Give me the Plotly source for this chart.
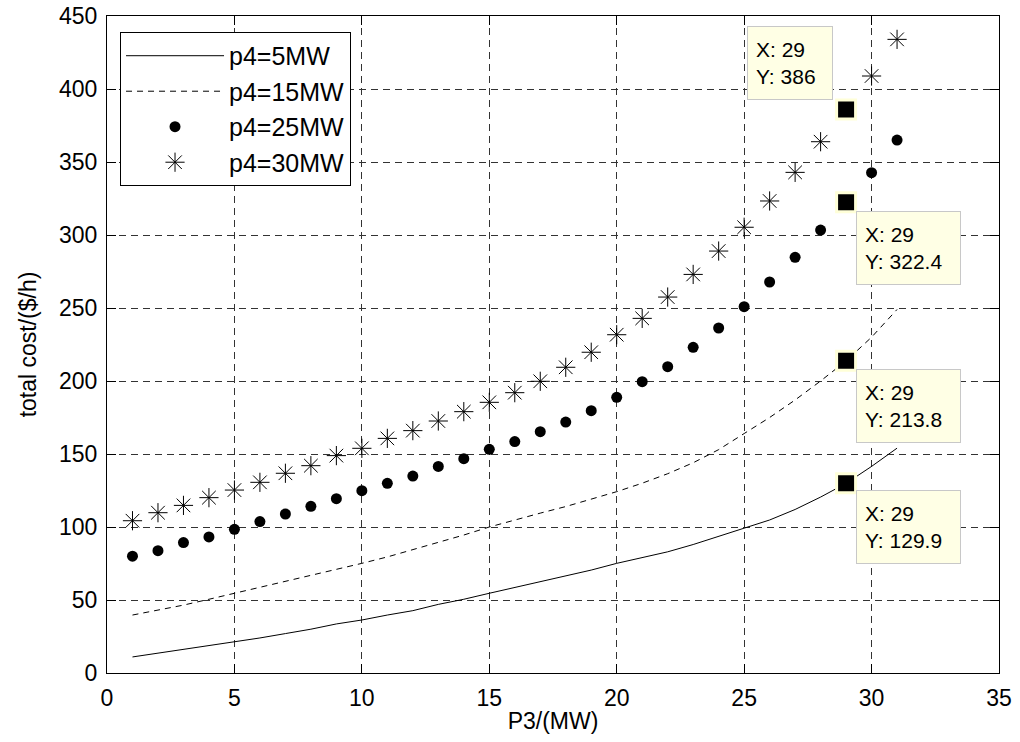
import plotly.graph_objects as go

# ---- data ----
p3 = list(range(1, 32))

cost_p4_5 = [11.0, 13.5, 16.0, 18.8, 21.5, 24.0, 27.0, 30.0, 33.6, 36.3,
             39.7, 42.7, 47.0, 50.5, 54.6, 58.5, 62.5, 66.5, 70.5, 75.1,
             79.0, 83.0, 88.0, 93.5, 99.0, 104.8, 112.0, 120.5, 129.9, 141.5,
             154.0]
cost_p4_15 = [39.7, 43.0, 46.5, 50.5, 54.6, 58.5, 62.5, 66.5, 70.8, 75.1,
              79.5, 84.5, 89.0, 94.5, 100.0, 105.0, 109.5, 114.0, 119.0, 124.2,
              130.0, 136.5, 144.0, 153.0, 164.0, 175.0, 187.0, 200.0, 213.8, 230.0,
              249.0]
cost_p4_25 = [80.0, 83.8, 89.3, 93.2, 98.4, 103.7, 108.9, 114.2, 119.4, 124.9,
              129.9, 134.9, 141.5, 146.8, 153.2, 158.5, 165.3, 171.9, 179.7, 188.8,
              199.5, 209.8, 223.1, 236.3, 250.9, 267.8, 284.7, 303.4, 322.4, 342.7,
              365.0]
cost_p4_30 = [104.3, 109.8, 114.8, 120.1, 125.3, 130.6, 136.8, 142.0, 148.9, 153.9,
              160.7, 166.0, 172.6, 179.0, 185.4, 192.0, 199.8, 209.4, 219.7, 231.7,
              242.9, 257.5, 273.0, 289.0, 305.3, 323.3, 342.9, 363.9, 386.0, 408.9,
              434.0]

series_names = ["p4=5MW", "p4=15MW", "p4=25MW", "p4=30MW"]

# data tips
tip_x = [29, 29, 29, 29]
tip_y = [386, 322.4, 213.8, 129.9]
tip_text = ["386", "322.4", "213.8", "129.9"]

x_ticks = [0, 5, 10, 15, 20, 25, 30, 35]
y_ticks = [0, 50, 100, 150, 200, 250, 300, 350, 400, 450]

FONT = "Liberation Sans, Arial, Helvetica, sans-serif"

fig = go.Figure()

fig.add_trace(go.Scatter(x=p3, y=cost_p4_5, mode="lines", name=series_names[0],
                         line=dict(color="black", width=1), legendgroup="a"))
fig.add_trace(go.Scatter(x=p3, y=cost_p4_15, mode="lines", name=series_names[1],
                         line=dict(color="black", width=1, dash="6px,5px"), legendgroup="b"))
fig.add_trace(go.Scatter(x=p3, y=cost_p4_25, mode="markers", name=series_names[2],
                         marker=dict(symbol="circle", size=11, color="black"), legendgroup="c"))
fig.add_trace(go.Scatter(x=p3, y=cost_p4_30, mode="markers", name=series_names[3],
                         marker=dict(symbol="asterisk-open", size=16, color="black",
                                     line=dict(color="black", width=1)), legendgroup="d"))

# data tip squares
fig.add_trace(go.Scatter(x=tip_x, y=tip_y, mode="markers", showlegend=False,
                         hoverinfo="skip",
                         marker=dict(symbol="square", size=19, color="black",
                                     line=dict(color="#FFFFD8", width=3))))

shifts = [(-13, 9, "right", "bottom"), (10, -9, "left", "top"),
          (10, -8, "left", "top"), (10, -7, "left", "top")]
widths = [68, 87, 87, 87]
for (xs, ys, xa, ya), tx, ty, tt, w in zip(shifts, tip_x, tip_y, tip_text, widths):
    fig.add_annotation(x=tx, y=ty, xref="x", yref="y", showarrow=False,
                       text=f"X: {tx}<br>Y: {tt}", align="left",
                       xanchor=xa, yanchor=ya, xshift=xs, yshift=ys,
                       width=w, height=56,
                       bgcolor="#FFFFE5", bordercolor="#C8C8C8", borderwidth=1,
                       borderpad=8,
                       font=dict(family=FONT, size=21, color="black"))

axis_common = dict(showline=True, linecolor="black", linewidth=1, mirror="ticks",
                   ticks="inside", ticklen=9, tickcolor="black",
                   showgrid=True, gridcolor="#333333", gridwidth=1, griddash="7px,5px",
                   zeroline=False, ticklabeloverflow="allow",
                   tickfont=dict(family=FONT, size=23, color="black"))

fig.update_xaxes(range=[0, 35], tickvals=x_ticks, ticklabelstandoff=4, automargin="height",
                 title=dict(text="P3/(MW)", standoff=3,
                            font=dict(family=FONT, size=23, color="black")),
                 **axis_common)
fig.update_yaxes(range=[0, 450], tickvals=y_ticks, ticklabelstandoff=4, automargin=False,
                 title=dict(text="total cost/($/h)", font=dict(family=FONT, size=23, color="black")),
                 **axis_common)

fig.update_layout(
    width=1020, height=742,
    margin=dict(l=107, r=21, t=16, b=69),
    paper_bgcolor="white", plot_bgcolor="white",
    font=dict(family=FONT, color="black"),
    legend=dict(x=0.0146, y=0.9757, xanchor="left", yanchor="top",
                bgcolor="white", bordercolor="black", borderwidth=1,
                font=dict(family=FONT, size=25, color="black"),
                itemwidth=98, tracegroupgap=0, itemclick=False),
    showlegend=True,
)

# remove the browser's default 8px body margin so the figure fills the window
fig.write_html("out.html", config={"displayModeBar": False},
               post_script="document.body.style.margin='0';document.body.style.overflow='hidden';")
